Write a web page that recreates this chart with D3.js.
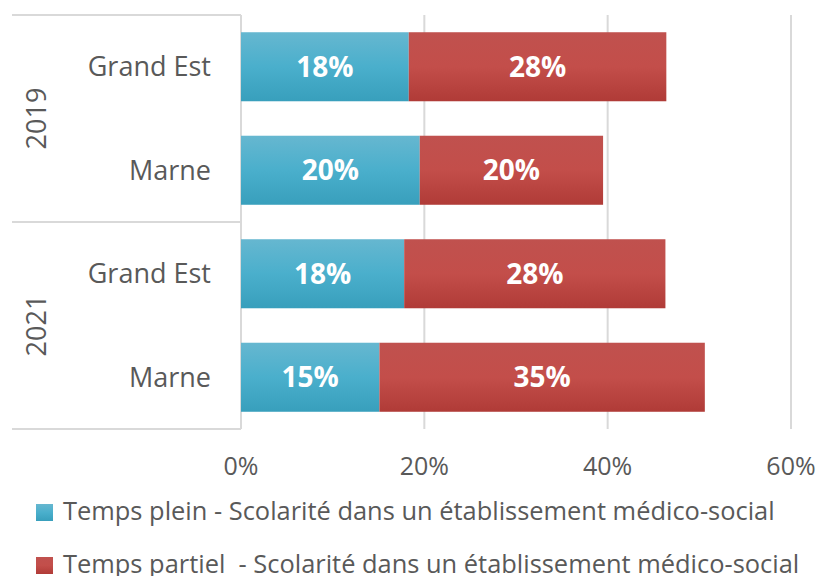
<!DOCTYPE html>
<html>
<head>
<meta charset="utf-8">
<script src="https://cdn.jsdelivr.net/npm/d3@7"></script>
<style>
body { margin: 0; background: #fff; }
text { font-family: "Open Sans", Lato, sans-serif; }
</style>
</head>
<body>
<div id="chart"></div>
<script>
// data
var years = ["2019", "2021"];
var regions = ["Grand Est", "Marne", "Grand Est", "Marne"];
var rowYears = ["2019", "2019", "2021", "2021"];
var tempsPlein = [18.3, 19.5, 17.8, 15.1];
var tempsPartiel = [28.1, 20.0, 28.5, 35.5];
var labelsPlein = ["18%", "20%", "18%", "15%"];
var labelsPartiel = ["28%", "20%", "28%", "35%"];
var ticks = [0, 20, 40, 60];
var seriesNames = ["Temps plein - Scolarité dans un établissement médico-social",
	"Temps partiel  - Scolarité dans un établissement médico-social"];

var W = 818, H = 576;
var svg = d3.select("#chart").append("svg")
	.attr("width", W)
	.attr("height", H);

var defs = svg.append("defs");
var gBlue = defs.append("linearGradient").attr("id", "gBlue").attr("x1", 0).attr("y1", 0).attr("x2", 0).attr("y2", 1);
gBlue.append("stop").attr("offset", "0%").attr("stop-color", "#66b7d0");
gBlue.append("stop").attr("offset", "50%").attr("stop-color", "#4aafcc");
gBlue.append("stop").attr("offset", "100%").attr("stop-color", "#389fbc");
var gRed = defs.append("linearGradient").attr("id", "gRed").attr("x1", 0).attr("y1", 0).attr("x2", 0).attr("y2", 1);
gRed.append("stop").attr("offset", "0%").attr("stop-color", "#c0514e");
gRed.append("stop").attr("offset", "50%").attr("stop-color", "#c34e4a");
gRed.append("stop").attr("offset", "100%").attr("stop-color", "#b03b37");

// scales
var x = d3.scaleLinear().domain([0, 60]).range([241, 791]);
var y = d3.scaleBand().domain(d3.range(4)).range([15, 429]).paddingInner(0.333).paddingOuter(0.1665);

// gridlines
svg.append("g").selectAll("line")
	.data(ticks.slice(1))
	.enter().append("line")
	.attr("x1", function(d) { return x(d); })
	.attr("x2", function(d) { return x(d); })
	.attr("y1", 15).attr("y2", 429)
	.attr("stroke", "#d9d9d9").attr("stroke-width", 2);

// category axis lines
var axisG = svg.append("g").attr("stroke", "#d9d9d9").attr("stroke-width", 2);
axisG.append("line").attr("x1", x(0)).attr("x2", x(0)).attr("y1", 15).attr("y2", 429);
[15, 222, 429].forEach(function(yy) {
	axisG.append("line").attr("x1", 12).attr("x2", x(0)).attr("y1", yy).attr("y2", yy);
});

// bars
var rows = svg.append("g").selectAll("g")
	.data(d3.range(4))
	.enter().append("g");

rows.append("rect")
	.attr("x", x(0))
	.attr("y", function(i) { return y(i); })
	.attr("width", function(i) { return x(tempsPlein[i]) - x(0); })
	.attr("height", y.bandwidth())
	.attr("fill", "url(#gBlue)");

rows.append("rect")
	.attr("x", function(i) { return x(tempsPlein[i]); })
	.attr("y", function(i) { return y(i); })
	.attr("width", function(i) { return x(tempsPlein[i] + tempsPartiel[i]) - x(tempsPlein[i]); })
	.attr("height", y.bandwidth())
	.attr("fill", "url(#gRed)");

rows.append("text")
	.attr("x", function(i) { return (x(0) + x(tempsPlein[i])) / 2; })
	.attr("y", function(i) { return y(i) + y.bandwidth() / 2 + 10; })
	.attr("text-anchor", "middle")
	.attr("fill", "#fff").attr("font-weight", "bold").attr("font-size", 28)
	.text(function(i) { return labelsPlein[i]; });

rows.append("text")
	.attr("x", function(i) { return (x(tempsPlein[i]) + x(tempsPlein[i] + tempsPartiel[i])) / 2; })
	.attr("y", function(i) { return y(i) + y.bandwidth() / 2 + 10; })
	.attr("text-anchor", "middle")
	.attr("fill", "#fff").attr("font-weight", "bold").attr("font-size", 28)
	.text(function(i) { return labelsPartiel[i]; });

// region labels
rows.append("text")
	.attr("x", 211)
	.attr("y", function(i) { return y(i) + y.bandwidth() / 2 + 9.5; })
	.attr("text-anchor", "end")
	.attr("fill", "#595959").attr("font-size", 27)
	.text(function(i) { return regions[i]; });

// year labels
svg.append("g").selectAll("text")
	.data(years)
	.enter().append("text")
	.attr("transform", function(d) {
		var idx = rowYears.indexOf(d);
		var cy = (y(idx) + y(idx + 1) + y.bandwidth()) / 2;
		return "translate(46," + cy + ") rotate(-90)";
	})
	.attr("text-anchor", "middle")
	.attr("fill", "#595959").attr("font-size", 27)
	.text(function(d) { return d; });

// x tick labels
svg.append("g").selectAll("text")
	.data(ticks)
	.enter().append("text")
	.attr("x", function(d) { return x(d); })
	.attr("y", 475)
	.attr("text-anchor", "middle")
	.attr("fill", "#595959").attr("font-size", 25)
	.text(function(d) { return d + "%"; });

// legend
var leg = svg.append("g").selectAll("g")
	.data(seriesNames)
	.enter().append("g")
	.attr("transform", function(d, i) { return "translate(36," + (504 + i * 53) + ")"; });
leg.append("rect")
	.attr("width", 17).attr("height", 17)
	.attr("fill", function(d, i) { return i == 0 ? "url(#gBlue)" : "url(#gRed)"; });
var legText = leg.append("text")
	.attr("x", 27).attr("y", 16)
	.attr("fill", "#595959").attr("font-size", 24)
	.attr("xml:space", "preserve")
	.style("white-space", "pre")
	.text(function(d) { return d; });

// fit legend font so first entry spans like the reference (~713px)
var w0 = legText.node().getComputedTextLength();
legText.attr("font-size", 24 * 712 / w0);
</script>
</body>
</html>
